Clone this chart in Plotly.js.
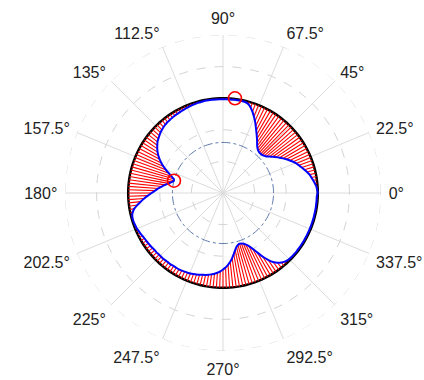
<!DOCTYPE html>
<html>
<head>
<meta charset="utf-8">
<script src="https://cdn.plot.ly/plotly-3.0.1.min.js"></script>
<style>html,body{margin:0;padding:0;background:#fff;}#chart{width:424px;height:380px;}</style>
</head>
<body>
<div id="chart"></div>
<script>
// Blue profile radius, sampled every 2 degrees from 0 to 358
const profileStepDeg = 2;
const profileR = [
  3.00,2.98,2.96,2.92,2.88,2.84,2.80,2.74,2.68,2.62,   // 0-18
  2.56,2.50,2.43,2.35,2.27,2.19,2.11,2.03,1.95,1.87,   // 20-38
  1.80,1.76,1.73,1.72,1.72,1.74,1.78,1.84,1.93,2.03,   // 40-58
  2.13,2.24,2.36,2.49,2.61,2.73,2.84,2.92,2.96,2.97,   // 60-78
  2.97,2.97,2.97,2.97,2.97,2.97,2.97,2.97,2.97,2.97,   // 80-98
  2.97,2.97,2.96,2.96,2.95,2.94,2.93,2.92,2.91,2.90,   // 100-118
  2.89,2.88,2.87,2.86,2.85,2.83,2.81,2.78,2.75,2.71,   // 120-138
  2.67,2.63,2.57,2.51,2.44,2.36,2.27,2.17,2.06,1.94,   // 140-158
  1.82,1.72,1.63,1.60,1.66,1.75,1.85,1.95,2.05,2.15,   // 160-178
  2.26,2.38,2.50,2.62,2.74,2.85,2.92,2.96,2.97,2.97,   // 180-198
  2.96,2.95,2.93,2.91,2.89,2.87,2.86,2.85,2.84,2.83,   // 200-218
  2.82,2.82,2.81,2.81,2.81,2.80,2.80,2.80,2.79,2.79,   // 220-238
  2.79,2.78,2.77,2.76,2.75,2.73,2.71,2.69,2.67,2.65,   // 240-258
  2.63,2.60,2.57,2.53,2.48,2.42,2.36,2.28,2.19,2.08,   // 260-278
  1.96,1.85,1.76,1.71,1.69,1.70,1.73,1.79,1.87,2.00,   // 280-298
  2.18,2.38,2.55,2.70,2.80,2.87,2.92,2.95,2.96,2.97,   // 300-318
  2.97,2.97,2.97,2.97,2.97,2.97,2.97,2.97,2.97,2.97,   // 320-338
  2.97,2.97,2.97,2.97,2.97,2.97,2.97,2.97,2.97,2.97    // 340-358
];
const outerCircleR = 3.0;     // black circle
const baseCircleR = 1.6;      // blue dash-dot circle
const markerR = [3.02, 1.60];
const markerTheta = [82.8, 165.9];
const angleTickStep = 22.5;
const radialRange = [0, 5];

const profileTheta = profileR.map((_, i) => i * profileStepDeg);
const closedTheta = profileTheta.concat([360]);
const closedR = profileR.concat([profileR[0]]);

// red radial segments from profile to the outer circle
const segR = [], segT = [];
profileR.forEach((r, i) => {
  if (r < outerCircleR) {
    segR.push(r, outerCircleR, null);
    segT.push(profileTheta[i], profileTheta[i], null);
  }
});

const circleTheta = closedTheta;
const traces = [
  { type: 'scatterpolar', mode: 'lines', r: circleTheta.map(() => radialRange[1]), theta: circleTheta,
    line: { color: '#d4d4d4', width: 1, dash: 'dash' }, hoverinfo: 'skip', cliponaxis: false },
  { type: 'scatterpolar', mode: 'lines', r: circleTheta.map(() => baseCircleR), theta: circleTheta,
    line: { color: '#5a78a8', width: 1, dash: 'dashdot' }, hoverinfo: 'skip' },
  { type: 'scatterpolar', mode: 'lines', r: circleTheta.map(() => outerCircleR), theta: circleTheta,
    line: { color: '#000000', width: 2.5 }, hoverinfo: 'skip' },
  { type: 'scatterpolar', mode: 'lines', r: segR, theta: segT, connectgaps: false,
    line: { color: '#ff0000', width: 1.1 }, hoverinfo: 'skip' },
  { type: 'scatterpolar', mode: 'lines', r: closedR, theta: closedTheta,
    line: { color: '#0000ff', width: 2, shape: 'spline', smoothing: 0.6 }, hoverinfo: 'skip' },
  { type: 'scatterpolar', mode: 'markers', r: markerR, theta: markerTheta,
    marker: { symbol: 'circle-open', size: 13, color: '#ff0000', line: { width: 1.6, color: '#ff0000' } }, hoverinfo: 'skip' }
];

const layout = {
  width: 424, height: 380,
  margin: { l: 65, r: 43, t: 35, b: 29 },
  paper_bgcolor: '#ffffff',
  showlegend: false,
  font: { family: 'Liberation Sans, Arial, sans-serif', size: 16, color: '#222222' },
  polar: {
    bgcolor: '#ffffff',
    domain: { x: [0, 1], y: [0, 1] },
    radialaxis: {
      range: radialRange, dtick: 1, showticklabels: false, ticks: '', showline: false,
      gridcolor: '#d4d4d4', griddash: 'dash', gridwidth: 1
    },
    angularaxis: {
      rotation: 0, direction: 'counterclockwise', dtick: angleTickStep, ticksuffix: '°',
      showline: false, gridcolor: '#dcdcdc', gridwidth: 1,
      ticks: 'outside', ticklen: 4, tickcolor: 'rgba(0,0,0,0)',
      tickfont: { family: 'Liberation Sans, Arial, sans-serif', size: 16, color: '#222222' }
    }
  }
};

Plotly.newPlot('chart', traces, layout, { displayModeBar: false, staticPlot: true });
</script>
</body>
</html>
